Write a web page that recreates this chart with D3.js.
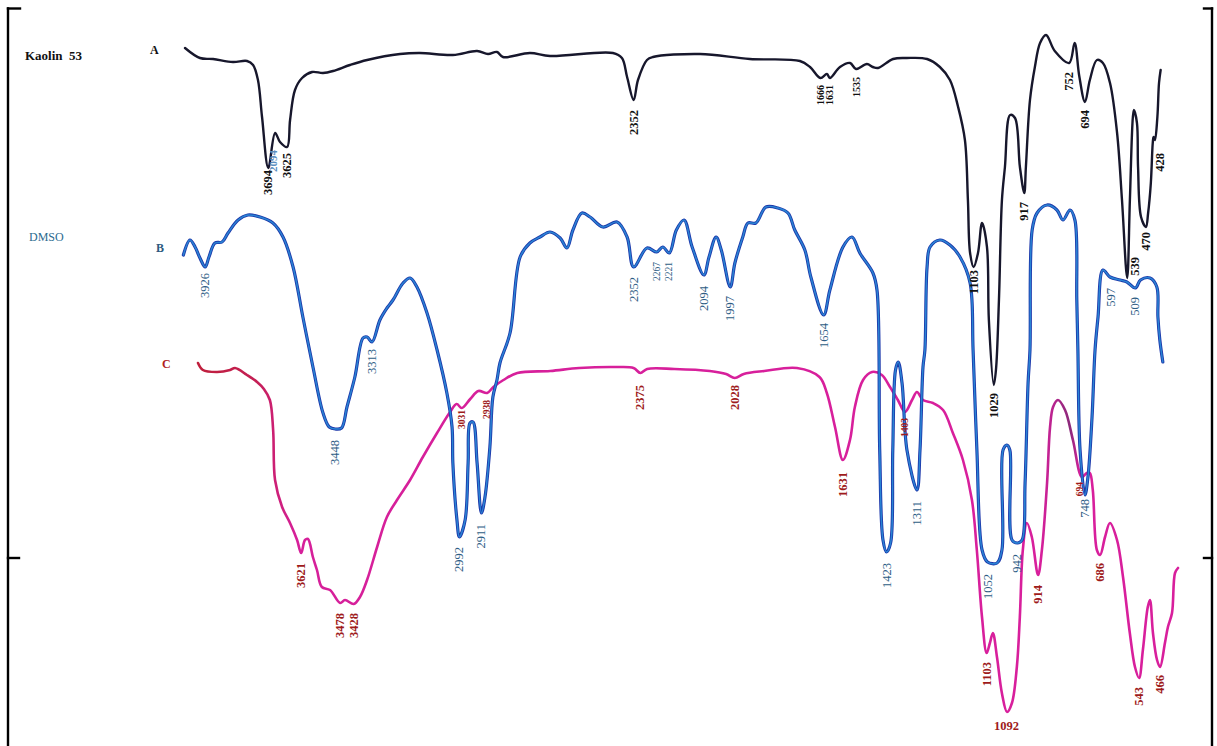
<!DOCTYPE html>
<html>
<head>
<meta charset="utf-8">
<script src="https://cdn.jsdelivr.net/npm/d3@7"></script>
<style>
  html, body { margin: 0; padding: 0; background: #fff; overflow: hidden; }
  svg { display: block; }
  text { font-family: "Liberation Serif", "Times New Roman", serif; }
</style>
</head>
<body>
<svg id="chart" width="1217" height="746"></svg>
<script>
// FTIR spectra (wavenumber in cm-1, stacked relative transmittance)
// A: Kaolin 53
const kaolinWn = [4000,3945,3897,3824,3772,3750,3732,3717,3694,3669,3651,3625,3614,3596,3570,3533,3493,3456,3394,3331,3210,3137,3016,2927,2887,2854,2832,2733,2659,2428,2395,2376,2352,2336,2303,2281,2108,1925,1741,1704,1666,1642,1631,1594,1557,1535,1495,1473,1454,1399,1348,1274,1227,1190,1160,1135,1124,1116,1103,1087,1072,1054,1047,1029,1021,1010,999,988,969,951,933,917,911,896,878,859,837,805,752,732,715,694,676,650,628,602,576,558,539,529,518,514,503,499,488,470,462,452,445,442,437,428,422,416];
const kaolinT = [139.6,137.6,137.4,136.8,137.0,136.2,133.2,125.8,115.6,122.6,120.8,119.8,125.2,131.2,133.6,134.8,134.6,135.0,136.2,137.2,138.4,138.6,138.2,139.0,138.4,138.8,137.8,138.6,138.0,138.6,137.6,133.8,129.2,133.2,137.2,137.8,138.4,137.4,137.0,135.8,133.6,134.4,133.6,135.8,136.6,135.4,136.4,135.8,135.6,137.4,137.6,137.4,135.8,133.2,127.8,121.2,109.2,98.6,95.8,98.6,104.6,99.8,85.2,72.2,75.2,89.2,109.2,115.8,126.2,125.6,115.8,110.6,115.8,129.2,135.8,140.6,142.2,139.0,136.6,140.6,134.0,128.8,133.2,137.2,136.6,132.6,122.6,109.2,93.6,109.2,125.8,127.2,124.6,115.8,105.8,103.8,106.6,112.6,120.6,121.8,121.2,125.8,132.6,135.2];

// B: DMSO
const dmsoWn = [4006,3982,3963,3945,3926,3912,3890,3864,3842,3805,3769,3724,3677,3640,3603,3567,3530,3493,3470,3448,3425,3405,3376,3346,3331,3313,3284,3258,3236,3199,3173,3148,3111,3074,3038,3019,3016,3001,2992,2971,2960,2953,2942,2927,2911,2898,2880,2869,2854,2843,2806,2769,2733,2696,2659,2622,2597,2575,2542,2512,2465,2413,2376,2352,2303,2267,2245,2221,2195,2167,2137,2094,2075,2049,2030,1997,1980,1951,1932,1903,1866,1822,1785,1760,1723,1701,1654,1631,1583,1550,1521,1473,1458,1448,1436,1423,1408,1400,1390,1380,1366,1348,1311,1300,1289,1282,1274,1263,1227,1190,1153,1116,1105,1091,1072,1052,1017,999,995,981,970,962,942,925,914,903,896,888,870,833,797,775,749,731,724,720,712,694,683,668,657,646,628,602,565,540,509,490,455,430,426,419,408];
const dmsoT = [98.2,101.2,99.8,97.6,95.8,97.8,100.6,100.8,102.6,105.2,106.2,105.8,104.6,101.8,95.8,85.8,75.8,66.6,63.8,63.4,63.6,67.8,73.8,81.6,81.8,80.8,85.2,87.6,89.2,92.6,93.6,91.8,86.6,79.2,70.6,63.8,56.6,45.2,41.8,45.2,56.6,64.6,64.8,56.6,46.6,49.8,59.8,69.8,73.2,76.6,82.6,97.8,100.6,101.8,102.8,101.6,99.6,103.2,106.6,105.8,103.8,104.8,101.8,95.8,99.6,98.8,99.8,98.6,103.2,105.2,99.8,94.2,97.8,101.8,99.2,91.8,96.6,101.8,104.6,104.6,107.8,107.6,106.6,103.2,99.2,93.8,86.2,91.2,99.8,101.8,98.6,94.6,91.2,59.2,41.2,38.8,40.6,59.2,75.2,76.8,72.6,59.2,51.2,59.2,75.8,79.2,95.8,99.8,101.2,100.2,97.8,92.6,79.2,59.2,39.2,36.8,36.6,39.2,59.2,60.2,59.2,41.2,40.6,41.2,52.6,72.6,79.2,103.2,106.6,108.2,107.2,105.2,107.2,105.2,89.2,79.2,59.2,50.2,53.8,65.8,79.2,85.8,95.2,93.8,93.2,92.8,91.6,93.2,93.6,91.8,85.8,81.2,76.8];

// C: Kaolin 53 + DMSO
const mixWn = [4000,3982,3930,3882,3864,3820,3783,3758,3736,3724,3717,3691,3662,3636,3621,3607,3596,3578,3563,3545,3515,3478,3460,3428,3405,3379,3342,3306,3269,3221,3174,3122,3074,3050,3031,3000,2970,2938,2915,2878,2827,2706,2600,2460,2400,2375,2350,2250,2120,2060,2028,1995,1920,1800,1717,1690,1660,1631,1605,1587,1557,1524,1488,1458,1429,1403,1377,1359,1337,1300,1263,1227,1190,1157,1139,1120,1103,1091,1080,1065,1047,1028,1010,992,981,970,955,937,914,900,881,870,859,841,815,786,753,735,724,713,698,686,668,650,624,602,577,558,543,529,511,503,492,477,466,448,437,422,411,400];
const mixT = [76.6,75.2,74.8,75.2,75.6,74.2,72.8,71.4,69.2,63.2,53.2,47.8,44.6,41.2,38.6,41.2,41.4,37.8,35.2,31.8,31.2,28.6,29.2,28.4,29.8,33.2,39.8,45.8,49.2,53.2,57.8,62.6,66.8,68.4,67.6,69.4,71.0,70.6,71.8,73.2,74.6,75.0,75.6,75.8,75.6,74.6,75.4,75.4,75.0,74.4,73.6,74.4,75.0,75.6,73.8,70.6,63.8,57.2,61.2,67.8,73.2,74.8,74.2,71.8,69.2,66.8,69.2,70.8,69.2,68.6,67.2,62.6,57.2,49.2,39.2,25.8,18.6,20.6,22.6,17.8,10.6,6.8,8.6,15.8,25.8,39.2,44.6,41.8,34.2,39.2,52.6,63.8,67.8,69.2,67.2,61.2,53.8,54.6,54.6,51.2,39.2,38.2,41.8,44.6,41.2,33.8,22.6,15.8,13.6,19.2,27.8,29.2,22.6,17.2,15.8,20.6,23.8,26.6,34.6,35.6];

// Peak annotations: [text, wavenumber anchor, transmittance at top of label]
const kaolinPeaks = [["3694",3694,115.2],["2094",3677,119.2],["3625",3625,118.6],["2352",2352,127.2],["1666",1666,132.2],["1631",1631,132.2],["1535",1535,133.8],["1103",1103,95.2],["1029",1029,70.6],["917",917,108.8],["752",752,134.8],["694",694,127.2],["539",510,97.8],["470",470,102.8],["428",419,118.6]];
const dmsoPeaks = [["3926",3926,94.6],["3448",3448,61.2],["3313",3313,79.4],["2992",2992,39.8],["2911",2911,44.4],["2352",2352,93.8],["2267",2267,96.8],["2221",2221,96.8],["2094",2094,92],["1997",1997,90],["1654",1654,84.6],["1423",1423,36.6],["1311",1311,49],["1052",1052,34.4],["942",942,38.4],["748",694,49.4],["597",597,91.6],["509",509,89.8]];
const mixPeaks = [["3621",3621,36.6],["3478",3478,26.6],["3428",3428,26.6],["3031",3031,67.2],["2938",2938,69.2],["2375",2375,72.2],["2028",2028,72.2],["1631",1631,54.8],["1403",1403,65.6],["1103",1103,16.8],["914",914,32.2],["694",760,52.8],["686",686,36.6],["543",543,11.8],["466",466,14.2]];
const mixMainPeak = ["1092",1030,3.2];

const seriesNames = ["Kaolin  53", "DMSO"];
const traceLetters = ["A", "B", "C"];

const svg = d3.select("#chart");

// scales: a common transmittance axis, wavenumber decreasing left to right
const y = d3.scaleLinear().domain([0, 150]).range([746, -4]);
const xAB = d3.scaleLinear().domain([4000, 400]).range([185, 1165]);
const xC = d3.scaleLinear().domain([4000, 400]).range([198, 1178]);

// bracket frame: two stacked brackets on each side
const frame = svg.append("g").attr("stroke", "#000").attr("stroke-width", 2.4).attr("stroke-linecap", "square");
const seg = (x1, y1, x2, y2) => frame.append("line")
  .attr("x1", x1).attr("y1", y1).attr("x2", x2).attr("y2", y2);
seg(8, 8.5, 20, 8.5); seg(8, 8.5, 8, 746); seg(8, 558, 19, 558);
seg(1204, 8.5, 1212, 8.5); seg(1212, 8.5, 1212, 746); seg(1204, 558, 1212, 558);

// gradient for trace C (crimson start fading into magenta)
const defs = svg.append("defs");
const gC = defs.append("linearGradient").attr("id", "gradC")
  .attr("gradientUnits", "userSpaceOnUse").attr("x1", 198).attr("x2", 1178).attr("y1", 0).attr("y2", 0);
[[0, "#bf1f3c"], [0.06, "#c41f55"], [0.1, "#d6209a"], [0.86, "#d81f9c"], [0.89, "#8a2a7a"], [0.9, "#d81f9c"], [1, "#d81f9c"]]
  .forEach(([o, c]) => gC.append("stop").attr("offset", o).attr("stop-color", c));

const curve = d3.curveCatmullRom.alpha(0.5);
const zip = (a, b) => a.map((v, i) => [v, b[i]]);

const lineAB = d3.line().x(d => xAB(d[0])).y(d => y(d[1])).curve(curve);
const lineC = d3.line().x(d => xC(d[0])).y(d => y(d[1])).curve(curve);

const traces = svg.append("g").attr("fill", "none").attr("stroke-linejoin", "round").attr("stroke-linecap", "round");

traces.append("path").datum(zip(mixWn, mixT)).attr("d", lineC)
  .attr("stroke", "url(#gradC)").attr("stroke-width", 2.6);

traces.append("path").datum(zip(dmsoWn, dmsoT)).attr("d", lineAB)
  .attr("stroke", "#1c37aa").attr("stroke-width", 3.2);
traces.append("path").datum(zip(dmsoWn, dmsoT)).attr("d", lineAB)
  .attr("stroke", "#2f9fe2").attr("stroke-width", 1.5).attr("opacity", 0.75);

traces.append("path").datum(zip(kaolinWn, kaolinT)).attr("d", lineAB)
  .attr("stroke", "#17172c").attr("stroke-width", 2.4);

// rotated peak labels
const smallA = new Set(["1666", "1631", "1535"]);
const smallB = new Set(["2267", "2221"]);
const smallC = new Set(["3031", "2938", "1403", "694"]);

function peakLabels(data, xs, opts) {
  svg.append("g").selectAll("text").data(data).join("text")
    .attr("transform", d => `translate(${xs(d[1])},${y(d[2])}) rotate(-90)`)
    .attr("text-anchor", "end")
    .attr("dominant-baseline", "central")
    .attr("font-size", d => opts.size(d[0]))
    .attr("font-weight", opts.weight)
    .attr("fill", d => opts.color(d[0]))
    .text(d => d[0]);
}

peakLabels(kaolinPeaks, xAB, {
  size: t => t === "2094" ? 11 : (smallA.has(t) ? 10 : 12.5),
  weight: "bold",
  color: t => t === "2094" ? "#5b8fbf" : "#111"
});
peakLabels(dmsoPeaks, xAB, {
  size: t => smallB.has(t) ? 9.5 : 12.5,
  weight: "normal",
  color: () => "#2e5d85"
});
peakLabels(mixPeaks, xC, {
  size: t => smallC.has(t) ? 9.5 : 12.5,
  weight: "bold",
  color: () => "#9e1b1b"
});

svg.append("text")
  .attr("x", xC(mixMainPeak[1])).attr("y", y(mixMainPeak[2]))
  .attr("text-anchor", "middle").attr("font-size", 12.5).attr("font-weight", "bold")
  .attr("fill", "#9e1b1b").text(mixMainPeak[0]);

// series names and trace letters
svg.append("text").attr("x", 25).attr("y", 60).attr("font-size", 13).attr("font-weight", "bold")
  .style("white-space", "pre").attr("fill", "#111").text(seriesNames[0]);
svg.append("text").attr("x", 29).attr("y", 241).attr("font-size", 12)
  .attr("fill", "#2c6b8f").text(seriesNames[1]);
svg.append("text").attr("x", 150).attr("y", 54).attr("font-size", 12).attr("font-weight", "bold")
  .attr("fill", "#111").text(traceLetters[0]);
svg.append("text").attr("x", 156).attr("y", 252).attr("font-size", 12).attr("font-weight", "bold")
  .attr("fill", "#2c5a80").text(traceLetters[1]);
svg.append("text").attr("x", 162).attr("y", 368).attr("font-size", 12).attr("font-weight", "bold")
  .attr("fill", "#b02020").text(traceLetters[2]);
</script>
</body>
</html>
